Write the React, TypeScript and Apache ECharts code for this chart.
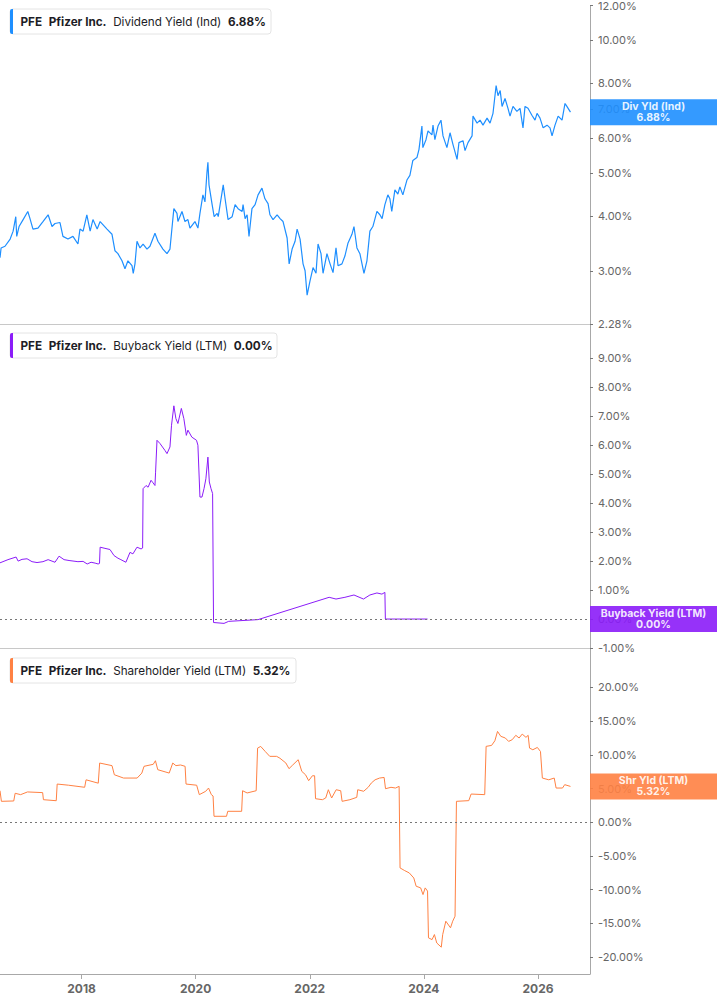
import * as echarts from 'echarts'
import { useEffect, useRef } from 'react'

// time range of the shared x axis
const xStart = '2016-07-28'
const xEnd = '2026-11-30'
const yearTicks = ['2018-01-01', '2020-01-01', '2022-01-01', '2024-01-01', '2026-01-01']

// right axis tick labels (percent)
const divYieldTicks = [2.28, 3, 4, 5, 6, 7, 8, 10, 12]
const buybackTicks = [-1, 0, 1, 2, 3, 4, 5, 6, 7, 8, 9]
const shrYieldTicks = [-20, -15, -10, -5, 0, 5, 10, 15, 20]

// Dividend Yield (Ind), percent
const divYield: [string, number][] = [
	['2016-07-28', 3.22], ['2016-08-04', 3.39], ['2016-08-29', 3.42], ['2016-10-01', 3.55],
	['2016-10-20', 3.7], ['2016-11-06', 3.99], ['2016-11-12', 3.6], ['2016-11-27', 3.79],
	['2016-12-23', 3.93], ['2017-01-22', 4.1], ['2017-02-05', 3.95], ['2017-02-24', 3.74],
	['2017-03-28', 3.76], ['2017-04-29', 3.89], ['2017-06-01', 4.03], ['2017-06-26', 3.79],
	['2017-07-15', 3.85], ['2017-08-16', 3.87], ['2017-09-04', 3.6], ['2017-10-06', 3.55],
	['2017-11-07', 3.6], ['2017-12-09', 3.46], ['2017-12-22', 3.74], ['2018-01-11', 3.7],
	['2018-02-04', 4.03], ['2018-02-25', 3.7], ['2018-03-15', 3.93], ['2018-04-11', 3.74],
	['2018-04-30', 3.89], ['2018-06-13', 3.74], ['2018-07-15', 3.64], ['2018-08-03', 3.34],
	['2018-08-22', 3.29], ['2018-09-17', 3.17], ['2018-10-06', 3.04], ['2018-10-25', 3.17],
	['2018-11-20', 3.09], ['2018-11-28', 2.97], ['2018-12-09', 3.12], ['2018-12-22', 3.51],
	['2019-01-10', 3.39], ['2019-01-30', 3.46], ['2019-02-24', 3.37], ['2019-03-15', 3.42],
	['2019-04-16', 3.66], ['2019-05-05', 3.51], ['2019-06-06', 3.37], ['2019-07-02', 3.29],
	['2019-07-21', 3.37], ['2019-08-03', 3.76], ['2019-08-15', 4.16], ['2019-09-04', 4.06],
	['2019-09-10', 3.89], ['2019-10-06', 4.1], ['2019-10-25', 3.89], ['2019-11-13', 3.93],
	['2019-11-26', 3.76], ['2019-12-28', 3.89], ['2020-01-16', 3.76], ['2020-01-29', 4.06],
	['2020-02-17', 4.47], ['2020-03-01', 4.31], ['2020-03-14', 5.03], ['2020-03-20', 5.3],
	['2020-03-27', 4.71], ['2020-04-16', 4.25], ['2020-04-29', 3.99], ['2020-05-18', 4.06],
	['2020-05-25', 3.99], ['2020-06-19', 4.54], ['2020-06-26', 4.71], ['2020-07-08', 4.38],
	['2020-07-27', 3.93], ['2020-08-22', 3.99], ['2020-09-10', 4.25], ['2020-09-29', 4.16],
	['2020-10-25', 4.1], ['2020-10-31', 4.25], ['2020-11-13', 3.95], ['2020-11-26', 4.03],
	['2020-12-08', 3.6], ['2020-12-27', 4.16], ['2021-01-16', 4.25], ['2021-02-04', 4.47],
	['2021-03-01', 4.63], ['2021-03-20', 4.38], ['2021-04-09', 4.27], ['2021-04-21', 4.03],
	['2021-05-11', 3.93], ['2021-06-06', 4.03], ['2021-06-25', 3.95], ['2021-07-14', 3.89],
	['2021-08-09', 3.57], ['2021-08-22', 3.12], ['2021-09-10', 3.37], ['2021-09-29', 3.51],
	['2021-10-12', 3.74], ['2021-10-31', 3.55], ['2021-11-19', 3.12], ['2021-12-02', 3.01],
	['2021-12-15', 2.65], ['2022-01-03', 2.86], ['2022-01-22', 3.06], ['2022-02-10', 2.97],
	['2022-02-23', 3.46], ['2022-03-14', 3.29], ['2022-03-27', 2.97], ['2022-04-21', 3.29],
	['2022-05-11', 3.12], ['2022-05-30', 2.98], ['2022-06-18', 3.39], ['2022-07-01', 3.09],
	['2022-07-26', 3.12], ['2022-08-14', 3.25], ['2022-09-03', 3.48], ['2022-09-28', 3.64],
	['2022-10-11', 3.79], ['2022-10-30', 3.39], ['2022-11-18', 3.29], ['2022-12-14', 2.97],
	['2023-01-02', 3.17], ['2023-01-21', 3.7], ['2023-02-09', 3.79], ['2023-03-07', 4.1],
	['2023-03-26', 4.03], ['2023-04-09', 3.95], ['2023-04-27', 4.25], ['2023-05-16', 4.47],
	['2023-05-29', 4.38], ['2023-06-10', 4.1], ['2023-06-30', 4.59], ['2023-07-19', 4.49],
	['2023-08-01', 4.66], ['2023-08-20', 4.47], ['2023-09-15', 4.83], ['2023-10-04', 4.95],
	['2023-10-23', 5.35], ['2023-11-18', 5.43], ['2023-12-01', 5.66], ['2023-12-20', 6.4],
	['2023-12-26', 5.72], ['2024-01-15', 5.96], ['2024-01-28', 6.24], ['2024-02-22', 6.11],
	['2024-02-29', 6.43], ['2024-03-12', 5.96], ['2024-04-01', 6.4], ['2024-04-20', 6.6],
	['2024-05-03', 6.08], ['2024-05-28', 5.72], ['2024-06-17', 6.18], ['2024-07-06', 5.81],
	['2024-08-01', 5.38], ['2024-08-13', 5.87], ['2024-09-08', 5.93], ['2024-09-21', 5.63],
	['2024-10-10', 5.87], ['2024-11-05', 6.08], ['2024-11-11', 6.74], ['2024-12-07', 6.5],
	['2024-12-26', 6.6], ['2025-01-14', 6.43], ['2025-02-09', 6.67], ['2025-02-28', 6.5],
	['2025-03-19', 6.84], ['2025-04-08', 7.9], ['2025-04-20', 7.5], ['2025-05-04', 7.7],
	['2025-05-16', 7.09], ['2025-06-04', 7.39], ['2025-06-23', 7.02], ['2025-07-06', 6.74],
	['2025-07-25', 7.09], ['2025-08-19', 6.91], ['2025-09-08', 7.02], ['2025-09-27', 6.34],
	['2025-10-10', 7.09], ['2025-10-29', 7.02], ['2025-11-23', 6.77], ['2025-12-13', 6.6],
	['2025-12-26', 6.84], ['2026-01-14', 6.67], ['2026-02-03', 6.34], ['2026-02-28', 6.43],
	['2026-03-19', 6.34], ['2026-04-01', 6.08], ['2026-04-20', 6.43], ['2026-05-10', 6.74],
	['2026-06-04', 6.6], ['2026-06-23', 7.2], ['2026-07-01', 7.13], ['2026-07-28', 6.88],
]

// Buyback Yield (LTM), percent
const buybackYield: [string, number][] = [
	['2016-07-28', 1.94], ['2016-09-17', 2.05], ['2016-11-08', 2.14], ['2016-11-21', 2.0],
	['2016-12-16', 2.06], ['2017-01-17', 2.08], ['2017-02-18', 1.98], ['2017-03-22', 1.95],
	['2017-04-29', 1.98], ['2017-06-01', 2.05], ['2017-07-15', 1.96], ['2017-08-10', 2.17],
	['2017-09-11', 2.05], ['2017-10-13', 2.02], ['2017-12-09', 1.98], ['2018-01-11', 1.99],
	['2018-02-06', 1.9], ['2018-03-03', 1.96], ['2018-03-29', 1.93], ['2018-04-17', 1.9],
	['2018-04-26', 1.92], ['2018-04-30', 2.48], ['2018-05-31', 2.44], ['2018-07-02', 2.4],
	['2018-07-28', 2.19], ['2018-08-22', 2.1], ['2018-09-10', 2.05], ['2018-10-12', 1.96],
	['2018-11-07', 2.3], ['2018-11-26', 2.25], ['2018-12-22', 2.48], ['2019-01-17', 2.42],
	['2019-01-27', 2.45], ['2019-01-30', 4.5], ['2019-02-18', 4.61], ['2019-03-03', 4.55],
	['2019-03-22', 4.79], ['2019-04-04', 4.7], ['2019-04-16', 4.61], ['2019-04-20', 5.07],
	['2019-04-29', 6.17], ['2019-05-18', 6.06], ['2019-06-19', 5.82], ['2019-07-02', 5.71],
	['2019-07-21', 5.94], ['2019-07-31', 6.69], ['2019-08-15', 7.36], ['2019-08-28', 6.92],
	['2019-09-10', 6.75], ['2019-10-02', 7.27], ['2019-10-18', 6.92], ['2019-11-03', 6.34],
	['2019-11-13', 6.52], ['2019-12-08', 6.28], ['2020-01-07', 6.17], ['2020-01-16', 6.0],
	['2020-01-29', 4.21], ['2020-02-11', 4.21], ['2020-02-24', 4.5], ['2020-03-07', 4.84],
	['2020-03-20', 5.59], ['2020-03-29', 4.73], ['2020-04-09', 4.5], ['2020-04-19', 4.33],
	['2020-04-25', -0.12], ['2020-07-01', -0.15], ['2020-07-31', -0.08], ['2021-02-04', -0.02],
	['2022-05-05', 0.75], ['2022-06-18', 0.69], ['2022-08-14', 0.75], ['2022-10-11', 0.83],
	['2022-12-11', 0.69], ['2023-01-21', 0.83], ['2023-03-07', 0.9], ['2023-04-08', 0.86],
	['2023-04-27', 0.92], ['2023-04-30', 0.0], ['2024-01-25', 0.0],
]

// Shareholder Yield (LTM), percent
const shrYield: [string, number][] = [
	['2016-07-28', 4.68], ['2016-08-06', 3.11], ['2016-10-24', 3.16], ['2016-11-02', 4.3],
	['2016-12-07', 4.1], ['2017-01-20', 4.5], ['2017-04-27', 4.4], ['2017-05-02', 3.35],
	['2017-07-23', 3.2], ['2017-07-29', 5.67], ['2017-10-10', 5.5], ['2018-01-21', 5.19],
	['2018-01-30', 6.3], ['2018-04-18', 5.8], ['2018-04-27', 8.79], ['2018-07-15', 8.4],
	['2018-07-30', 7.05], ['2018-09-27', 6.56], ['2018-12-23', 6.56], ['2019-01-22', 7.3],
	['2019-02-05', 8.3], ['2019-04-05', 8.6], ['2019-04-19', 9.13], ['2019-05-04', 7.8],
	['2019-07-16', 7.3], ['2019-08-08', 8.79], ['2019-08-28', 8.4], ['2019-09-27', 8.5],
	['2019-10-26', 8.3], ['2019-11-01', 5.67], ['2020-01-08', 5.5], ['2020-01-25', 4.1],
	['2020-03-06', 4.6], ['2020-03-24', 5.08], ['2020-04-11', 4.1], ['2020-04-22', 3.9],
	['2020-04-28', 0.89], ['2020-07-17', 0.89], ['2020-07-25', 1.63], ['2020-10-22', 1.63],
	['2020-10-28', 4.68], ['2020-11-26', 4.35], ['2021-01-23', 4.68], ['2021-02-01', 11.0],
	['2021-02-21', 11.25], ['2021-03-22', 10.5], ['2021-04-20', 9.78], ['2021-06-03', 9.78],
	['2021-06-24', 9.5], ['2021-08-01', 8.79], ['2021-08-21', 7.95], ['2021-09-14', 8.5],
	['2021-10-19', 9.28], ['2021-11-11', 7.55], ['2021-12-05', 7.05], ['2021-12-25', 6.17],
	['2022-01-18', 6.9], ['2022-02-01', 6.9], ['2022-02-07', 3.5], ['2022-03-23', 3.35],
	['2022-04-13', 3.6], ['2022-04-30', 4.83], ['2022-05-21', 3.6], ['2022-06-19', 4.83],
	['2022-07-18', 4.68], ['2022-07-27', 3.11], ['2022-09-15', 3.35], ['2022-10-29', 3.7],
	['2022-11-04', 4.83], ['2022-12-12', 4.6], ['2023-01-10', 5.19], ['2023-01-30', 5.82],
	['2023-02-23', 6.3], ['2023-03-24', 6.56], ['2023-04-22', 6.65], ['2023-05-01', 4.98],
	['2023-06-05', 5.19], ['2023-07-04', 5.08], ['2023-07-27', 5.33], ['2023-08-02', -6.77],
	['2023-09-01', -7.17], ['2023-09-30', -7.51], ['2023-10-29', -8.26], ['2023-11-13', -9.48],
	['2023-12-12', -9.73], ['2023-12-27', -10.72], ['2024-01-10', -9.73], ['2024-01-25', -10.2],
	['2024-01-31', -17.14], ['2024-02-23', -17.4], ['2024-03-09', -16.65], ['2024-03-24', -17.9],
	['2024-04-22', -18.52], ['2024-05-01', -16.65], ['2024-05-21', -14.67], ['2024-06-20', -15.65],
	['2024-07-04', -14.67], ['2024-07-19', -13.93], ['2024-07-28', 3.11], ['2024-10-15', 3.21],
	['2024-10-30', 4.19], ['2025-01-25', 4.1], ['2025-02-03', 11.26], ['2025-03-10', 11.4],
	['2025-03-31', 12.09], ['2025-04-17', 13.48], ['2025-05-08', 12.75], ['2025-06-06', 12.5],
	['2025-06-27', 12.0], ['2025-07-20', 12.25], ['2025-08-12', 12.9], ['2025-09-02', 12.5],
	['2025-09-22', 13.08], ['2025-10-16', 12.6], ['2025-10-30', 12.9], ['2025-11-08', 11.0],
	['2025-11-29', 10.76], ['2025-12-28', 11.1], ['2026-01-17', 10.5], ['2026-01-29', 6.56],
	['2026-03-11', 6.3], ['2026-04-15', 6.56], ['2026-04-27', 5.08], ['2026-06-07', 5.08],
	['2026-06-21', 5.58], ['2026-07-28', 5.32],
]

const BLUE = '#1e8fff'
const PURPLE = '#8b1cf8'
const ORANGE = '#ff8143'
const FONT = 'Inter'

const pct = (v: number) => v.toFixed(2) + '%'
const last = (arr: [string, number][]) => arr[arr.length - 1][1]

const xAxisBase = (gridIndex: number, showLabels: boolean) => ({
	gridIndex,
	type: 'value',
	min: Date.parse(xStart),
	max: Date.parse(xEnd),
	axisLine: { show: true, onZero: false, lineStyle: { color: showLabels ? '#a8a8a8' : '#c8c8c8', width: 1 } },
	axisTick: {
		show: showLabels,
		length: 5,
		customValues: yearTicks.map((d) => Date.parse(d)),
		lineStyle: { color: '#a8a8a8' },
	},
	axisLabel: {
		show: showLabels,
		customValues: yearTicks.map((d) => Date.parse(d)),
		formatter: (v: number) => String(new Date(v).getUTCFullYear()),
		color: '#666',
		fontWeight: 'bold',
		fontSize: 12,
		fontFamily: FONT,
		margin: 8,
	},
	splitLine: { show: false },
})

const yAxisBase = (gridIndex: number, min: number, max: number, ticks: number[], fmt: (v: number) => string) => ({
	gridIndex,
	type: 'value',
	position: 'right',
	min,
	max,
	axisLine: { show: true, onZero: false, lineStyle: { color: '#a8a8a8', width: 1 } },
	axisTick: { show: true, length: 3, customValues: ticks, lineStyle: { color: '#777' } },
	axisLabel: { customValues: ticks, formatter: fmt, color: '#666', fontSize: 11, fontFamily: FONT, margin: 8 },
	splitLine: { show: false },
})

// value badge on the right axis, centred on the last value
const badge = (y: number, color: string, text: string) => ({
	silent: true,
	symbol: 'rect',
	symbolSize: [127, 26],
	symbolOffset: [63.5, 0],
	itemStyle: { color, opacity: 0.9 },
	label: {
		show: true,
		position: 'inside',
		formatter: text,
		color: '#fff',
		fontWeight: 'bold',
		fontSize: 10.5,
		lineHeight: 11,
		fontFamily: FONT,
	},
	data: [{ coord: [Date.parse(xEnd), y] }],
})

const zeroLine = {
	silent: true,
	symbol: ['none', 'none'],
	label: { show: false },
	lineStyle: { type: [2, 3], color: '#777', width: 1 },
	data: [{ yAxis: 0 }],
}

const legendBox = (y: number, width: number, color: string, label: string, value: string) => ({
	type: 'group',
	x: 10,
	y,
	children: [
		{
			type: 'rect',
			shape: { x: 0, y: 0, width, height: 25, r: 3 },
			style: { fill: '#fff', stroke: '#e4e4e4', lineWidth: 1 },
		},
		{ type: 'rect', shape: { x: 0, y: 0, width: 3, height: 25, r: [2, 0, 0, 2] }, style: { fill: color } },
		{
			type: 'text',
			x: 10.5,
			y: 12.5,
			style: {
				text: `{b|PFE}  {b|Pfizer Inc.}  {n|${label}}  {b|${value}}`,
				verticalAlign: 'middle',
				rich: {
					b: { fontFamily: FONT, fontSize: 11.7, fontWeight: 'bold', fill: '#1d1d26' },
					n: { fontFamily: FONT, fontSize: 11.7, fontWeight: 'normal', fill: '#1d1d26' },
				},
			},
		},
	],
})

const App = () => {
	const chartRef = useRef(null)

	useEffect(() => {
		const myChart = echarts.init(chartRef.current, null, { renderer: 'svg' })

		const option = {
			animation: false,
			textStyle: { fontFamily: FONT },
			grid: [
				{ left: 0, right: 127, top: 0, height: 324 },
				{ left: 0, right: 127, top: 325, height: 323 },
				{ left: 0, right: 127, top: 649, height: 325 },
			],
			xAxis: [xAxisBase(0, false), xAxisBase(1, false), xAxisBase(2, true)],
			yAxis: [
				// log-scaled percent axis
				yAxisBase(0, Math.log(divYieldTicks[0]), Math.log(12), divYieldTicks.map(Math.log), (v) =>
					pct(Math.exp(v)),
				),
				yAxisBase(1, -1, 10.15, buybackTicks, pct),
				yAxisBase(2, -22.5, 25.7, shrYieldTicks, pct),
			],
			graphic: [
				legendBox(9, 261, BLUE, 'Dividend Yield (Ind)', pct(last(divYield))),
				legendBox(333, 267, PURPLE, 'Buyback Yield (LTM)', pct(last(buybackYield))),
				legendBox(658, 286, ORANGE, 'Shareholder Yield (LTM)', pct(last(shrYield))),
			],
			series: [
				{
					type: 'line',
					xAxisIndex: 0,
					yAxisIndex: 0,
					showSymbol: false,
					lineStyle: { color: BLUE, width: 1.2 },
					data: divYield.map(([d, v]) => [Date.parse(d), Math.log(v)]),
					markPoint: badge(Math.log(last(divYield)), BLUE, `Div Yld (Ind)\n${pct(last(divYield))}`),
				},
				{
					type: 'line',
					xAxisIndex: 1,
					yAxisIndex: 1,
					showSymbol: false,
					lineStyle: { color: PURPLE, width: 1 },
					data: buybackYield.map(([d, v]) => [Date.parse(d), v]),
					markLine: zeroLine,
					markPoint: badge(last(buybackYield), PURPLE, `Buyback Yield (LTM)\n${pct(last(buybackYield))}`),
				},
				{
					type: 'line',
					xAxisIndex: 2,
					yAxisIndex: 2,
					showSymbol: false,
					lineStyle: { color: ORANGE, width: 1 },
					data: shrYield.map(([d, v]) => [Date.parse(d), v]),
					markLine: zeroLine,
					markPoint: badge(last(shrYield), ORANGE, `Shr Yld (LTM)\n${pct(last(shrYield))}`),
				},
			],
		}

		myChart.setOption(option)

		const handleResize = () => myChart.resize()
		window.addEventListener('resize', handleResize)

		return () => {
			myChart.dispose()
			window.removeEventListener('resize', handleResize)
		}
	}, [])

	return <div ref={chartRef} style={{ position: 'absolute', left: 0, top: 0, width: '717px', height: '1005px' }} />
}

export default App
